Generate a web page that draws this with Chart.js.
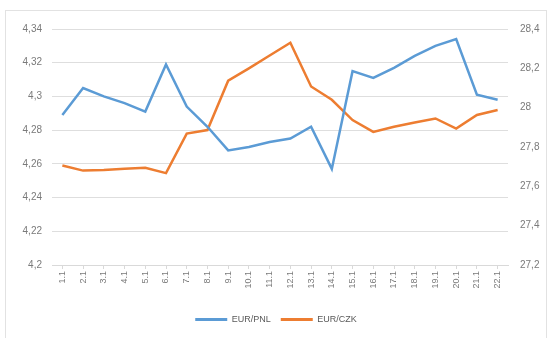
<!DOCTYPE html>
<html>
<head>
<meta charset="utf-8">
<script src="https://cdn.jsdelivr.net/npm/chart.js@4"></script>
<style>
  body { margin: 0; background: #fff; }
  #box {
    position: absolute; left: 5px; top: 10px;
    width: 540px; height: 335px;
    border: 1px solid #e2e2e2;
  }
</style>
</head>
<body>
<div id="box"><canvas id="ChartKurzy" width="540" height="335"></canvas></div>
<script>
const dny = ['1.1', '2.1', '3.1', '4.1', '5.1', '6.1', '7.1', '8.1', '9.1', '10.1', '11.1',
    '12.1', '13.1', '14.1', '15.1', '16.1', '17.1', '18.1', '19.1', '20.1', '21.1', '22.1'];

// EUR/PLN - leva osa
const eurPln = [4.289, 4.305, 4.300, 4.296, 4.291, 4.319, 4.294, 4.282, 4.268, 4.270, 4.273,
    4.275, 4.282, 4.257, 4.315, 4.311, 4.317, 4.324, 4.330, 4.334, 4.301, 4.298];

// EUR/CZK - prava osa
const eurCzk = [27.706, 27.680, 27.683, 27.689, 27.694, 27.667, 27.868, 27.886, 28.137, 28.200, 28.265,
    28.330, 28.108, 28.040, 27.937, 27.877, 27.903, 27.925, 27.945, 27.894, 27.963, 27.988];

const carka = (v) => String(Math.round(v * 100) / 100).replace('.', ',');

const ctx = document.getElementById('ChartKurzy').getContext('2d');

const data = {
    labels: dny,
    datasets: [{
        label: 'EUR/PNL',
        data: eurPln,
        borderColor: '#5b9bd5',
        backgroundColor: '#5b9bd5',
        borderWidth: 2.5,
        pointRadius: 0,
        tension: 0,
        yAxisID: 'y'
    }, {
        label: 'EUR/CZK',
        data: eurCzk,
        borderColor: '#ed7d31',
        backgroundColor: '#ed7d31',
        borderWidth: 2.5,
        pointRadius: 0,
        tension: 0,
        yAxisID: 'y1'
    }]
};

const config = {
    type: 'line',
    data: data,
    options: {
        responsive: false,
        animation: false,
        layout: { padding: { top: 17, bottom: 12, left: 0, right: 0 } },
        plugins: {
            legend: {
                position: 'bottom',
                labels: {
                    boxWidth: 32,
                    boxHeight: 3,
                    padding: 10,
                    color: '#595959',
                    font: { family: 'Liberation Sans', size: 9 },
                    generateLabels: (chart) => {
                        const items = Chart.defaults.plugins.legend.labels.generateLabels(chart);
                        items.forEach(it => { it.lineWidth = 0; });
                        return items;
                    }
                }
            },
            tooltip: { enabled: false }
        },
        scales: {
            x: {
                offset: true,
                grid: { display: true, drawOnChartArea: false, drawTicks: true, tickLength: 4, color: '#d9d9d9' },
                border: { color: '#d9d9d9' },
                ticks: {
                    minRotation: 90, maxRotation: 90, autoSkip: false,
                    color: '#7a7a7a', padding: 2,
                    font: { family: 'Liberation Sans', size: 9 }
                },
                afterFit: (axis) => { axis.height = 40; }
            },
            y: {
                position: 'left',
                min: 4.2, max: 4.34,
                grid: { color: '#dedede', drawTicks: false },
                border: { display: false },
                ticks: {
                    stepSize: 0.02, padding: 10,
                    color: '#7a7a7a',
                    font: { family: 'Liberation Sans', size: 10 },
                    callback: (v) => carka(v)
                },
                afterFit: (axis) => { axis.width = 46; }
            },
            y1: {
                position: 'right',
                min: 27.2, max: 28.4,
                grid: { display: false, drawTicks: false },
                border: { display: false },
                ticks: {
                    stepSize: 0.2, padding: 12,
                    color: '#7a7a7a',
                    font: { family: 'Liberation Sans', size: 10 },
                    callback: (v) => carka(v)
                },
                afterFit: (axis) => { axis.width = 38; }
            }
        }
    }
};

const kurzyChart = new Chart(ctx, config);
</script>
</body>
</html>
